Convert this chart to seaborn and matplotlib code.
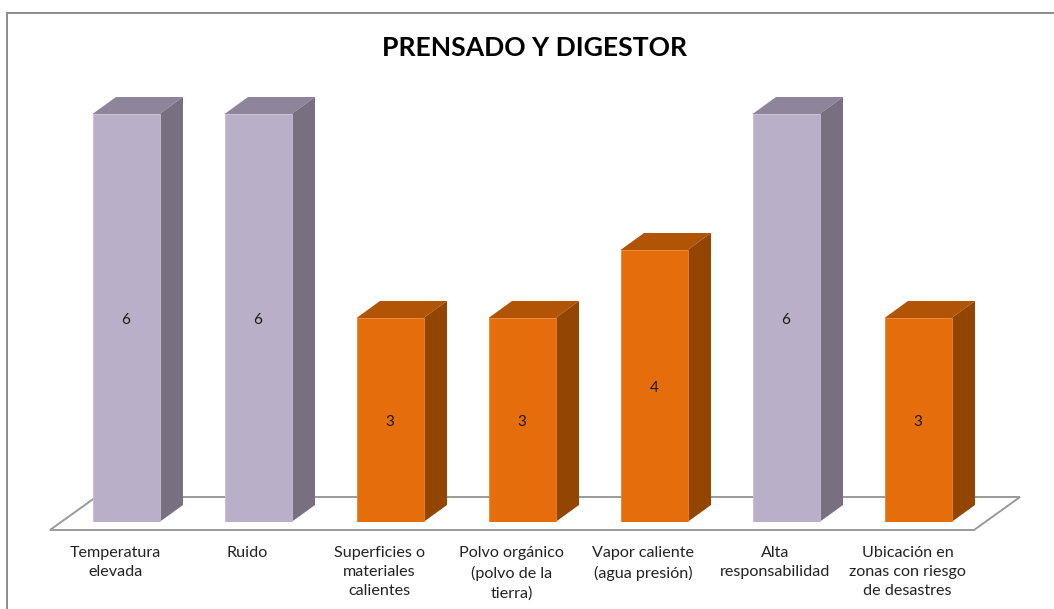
import matplotlib
matplotlib.use("Agg")
import matplotlib.pyplot as plt
from matplotlib.patches import Polygon, Rectangle
import pandas as pd
import seaborn as sns

categories = ["Temperatura\nelevada", "Ruido", "Superficies o\nmateriales\ncalientes",
              "Polvo orgánico\n(polvo de la\ntierra)", "Vapor caliente\n(agua presión)",
              "Alta\nresponsabilidad", "Ubicación en\nzonas con riesgo\nde desastres"]
values = [6, 6, 3, 3, 4, 6, 3]
title = "PRENSADO Y DIGESTOR"

W, H = 1054, 609
FRONT = {6: "#B9AFC8", 3: "#E56D0B", 4: "#E56D0B"}
TOP = {6: "#8E859B", 3: "#B15406", 4: "#B15406"}
SIDE = {6: "#786F80", 3: "#934504", 4: "#934504"}

sns.set_theme(style="white")
plt.rcParams["font.family"] = ["Lato", "DejaVu Sans"]

fig = plt.figure(figsize=(W / 100, H / 100), dpi=100, facecolor="white")
# axes: category band 60..984 px, value 0 at y=522, value 6 at y=114
ax = fig.add_axes([60 / W, 1 - 522 / H, 924 / W, 408 / H])
df = pd.DataFrame({"cat": categories, "val": values})
sns.barplot(data=df, x="cat", y="val", hue="val", palette=FRONT, legend=False,
            width=67 / 132, saturation=1, ax=ax, zorder=5, dodge=False)
bars = [p for p in ax.patches if p.get_height() > 0]
ax.set_xlim(-0.5, 6.5)
ax.set_ylim(0, 6)
ax.axis("off")

px_x, px_y = 1 / 132, 1 / 68
dx, dy = 23.5 * px_x, 17 * px_y

# floor plane
fx0, fx1 = (50 - 126) * px_x, (974 - 126) * px_x
fy0 = -8 * px_y
ax.add_patch(Polygon([(fx0, fy0), (fx1, fy0), (fx1 + 46 * px_x, fy0 + 33 * px_y),
                      (fx0 + 46 * px_x, fy0 + 33 * px_y)], closed=True, fc="white",
                     ec="#9A9A9A", lw=1.4, clip_on=False, zorder=1))

# depth faces, derived from each bar drawn by seaborn
for bar in bars:
    h = bar.get_height()
    v = round(h)
    x0, x1 = bar.get_x(), bar.get_x() + bar.get_width()
    bar.set_edgecolor("#C6BED2" if v == 6 else "#E98433")
    bar.set_linewidth(0.6)
    ax.add_patch(Polygon([(x0, h), (x1, h), (x1 + dx, h + dy), (x0 + dx, h + dy)], closed=True,
                         fc=TOP[v], ec="none", clip_on=False, zorder=4))
    ax.add_patch(Polygon([(x1, 0), (x1 + dx, dy), (x1 + dx, h + dy), (x1, h)], closed=True,
                         fc=SIDE[v], ec="none", clip_on=False, zorder=4))
    ax.annotate(str(v), xy=((x0 + x1) / 2, h / 2), xytext=(0, -1.5), textcoords="offset points",
                ha="center", va="center", fontsize=11, color="#1a1a1a", zorder=6)

# category labels
for i, lab in enumerate(categories):
    ax.annotate(lab, xy=(i, 0), xycoords="data", xytext=(-7.6, -17.2), textcoords="offset points",
                ha="center", va="top", fontsize=11.6, color="#222222", linespacing=1.47,
                annotation_clip=False)

fig.text(535 / W, 1 - 47.5 / H, title, ha="center", va="center", fontsize=19.05,
         fontweight="bold", color="black")

# chart frame
fig.add_artist(Rectangle((6.5 / W, -0.02), 1.1, 1 - 12.5 / H + 0.02, transform=fig.transFigure,
                         fc="none", ec="#8C8C8C", lw=1.4))

fig.savefig("out.png", dpi=100, facecolor="white")
